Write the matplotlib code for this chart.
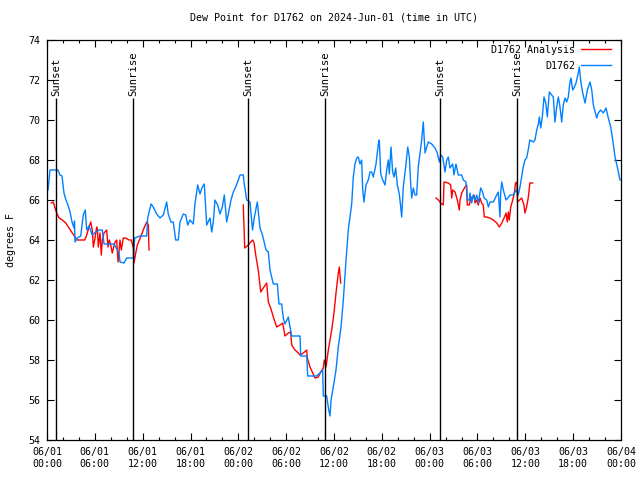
import numpy as np
import matplotlib
matplotlib.use('Agg')
import matplotlib.pyplot as plt
from matplotlib.ticker import MultipleLocator, FuncFormatter
from datetime import datetime, timedelta

# 時刻は 2024-06-01 00:00 UTC からの経過時間 [h]
start = datetime(2024, 6, 1, 0, 0)

# D1762 観測値
obs_hours = [
    0.13, 0.38, 1.38, 1.63, 1.88, 2.13, 2.38, 2.63, 2.89, 3.14, 3.39, 3.45, 3.51, 3.8, 4.23,
    4.55, 4.8, 4.98, 5.27, 5.68, 6.11, 6.52, 6.94, 7.15, 8.4, 9.03, 9.16, 9.66, 10.0, 10.83,
    11.0, 11.67, 12.51, 12.63, 13.05, 13.33, 13.76, 14.17, 14.59, 15.01, 15.21, 15.55, 15.84,
    16.14, 16.47, 16.68, 17.1, 17.4, 17.65, 17.94, 18.35, 18.56, 18.9, 19.19, 19.48, 19.73,
    20.03, 20.45, 20.66, 20.86, 21.07, 21.41, 21.7, 21.99, 22.24, 22.54, 22.74, 23.08, 23.37,
    23.67, 24.0, 24.21, 24.62, 24.71, 25.05, 25.46, 25.78, 25.99, 26.38, 26.72, 27.06, 27.47,
    27.76, 27.97, 28.39, 28.89, 29.1, 29.44, 29.64, 29.85, 30.27, 30.39, 30.69, 31.74, 31.82,
    32.58, 32.7, 33.83, 34.24, 34.58, 34.66, 35.08, 35.34, 35.5, 35.63, 35.91, 36.25, 36.54,
    36.88, 37.17, 37.51, 37.79, 38.22, 38.42, 38.63, 38.85, 39.05, 39.26, 39.47, 39.6, 39.76,
    40.01, 40.3, 40.52, 40.73, 40.93, 41.27, 41.56, 41.68, 41.86, 42.11, 42.4, 42.61, 42.81,
    42.94, 43.15, 43.36, 43.53, 43.74, 43.94, 44.19, 44.37, 44.49, 44.69, 44.99, 45.25, 45.45,
    45.62, 45.75, 45.95, 46.16, 46.37, 46.57, 46.79, 47.0, 47.2, 47.42, 47.63, 47.83, 48.26,
    48.67, 48.96, 49.21, 49.39, 49.64, 49.92, 50.14, 50.34, 50.55, 50.89, 51.05, 51.3, 51.59,
    52.02, 52.22, 52.56, 52.72, 52.97, 53.06, 53.27, 53.47, 53.69, 53.9, 54.1, 54.4, 54.65,
    54.82, 55.16, 55.36, 55.57, 55.99, 56.41, 56.61, 56.82, 56.91, 57.04, 57.24, 57.58, 57.79,
    58.08, 58.49, 58.83, 59.11, 59.33, 59.54, 59.74, 59.95, 60.16, 60.36, 60.57, 61.0, 61.21,
    61.43, 61.63, 61.76, 61.93, 62.13, 62.34, 62.56, 62.76, 63.01, 63.31, 63.51, 63.72, 63.93,
    64.14, 64.35, 64.56, 64.76, 64.98, 65.19, 65.39, 65.6, 65.73, 65.94, 66.1, 66.36, 66.64,
    66.77, 66.98, 67.2, 67.49, 67.78, 68.11, 68.33, 68.53, 68.95, 69.15, 69.45, 69.78, 70.12,
    70.41, 70.71, 70.96, 71.25, 71.54, 71.79, 71.88,
]
obs_dewpt = [
    66.5, 67.5, 67.5, 67.25, 67.2, 66.35, 66.0, 65.75, 65.4, 64.9, 64.6, 64.95, 63.9, 64.1, 64.2,
    65.25, 65.5, 64.5, 64.7, 64.25, 64.4, 64.5, 64.5, 63.8, 63.8, 63.35, 62.9, 62.85, 63.1, 63.1,
    64.1, 64.2, 64.2, 65.1, 65.8, 65.65, 65.3, 65.1, 65.25, 65.9, 65.3, 64.9, 64.9,
    64.0, 64.0, 64.9, 65.3, 65.25, 64.75, 65.0, 64.8, 65.8, 66.75, 66.3, 66.65, 66.8,
    64.75, 65.1, 64.4, 64.9, 66.0, 65.75, 65.3, 65.65, 66.25, 64.9, 65.3, 66.0, 66.4,
    66.65, 67.0, 67.25, 67.25, 66.9, 66.0, 65.9, 64.5, 65.1, 65.9, 64.6, 64.2, 63.5,
    63.4, 62.5, 61.8, 61.8, 60.8, 60.8, 60.1, 59.8, 60.15, 59.85, 59.2, 59.2, 58.2,
    58.2, 57.2, 57.2, 57.35, 57.5, 56.2, 56.2, 55.5, 55.2, 56.0, 56.65, 57.5, 58.65,
    59.65, 61.0, 63.0, 64.5, 65.8, 67.15, 67.8, 68.1, 68.15, 67.8, 68.0, 66.5, 65.9,
    66.75, 67.0, 67.4, 67.4, 67.15, 67.8, 68.8, 69.0, 67.3, 67.0, 66.75, 67.5, 68.0,
    67.3, 68.65, 67.4, 67.15, 67.6, 66.75, 66.3, 65.65, 65.15, 66.65, 67.65, 68.65, 68.15,
    66.8, 66.1, 66.6, 66.25, 66.25, 67.65, 68.35, 69.0, 69.9, 68.35, 68.65, 68.9, 68.8,
    68.6, 68.35, 67.9, 68.25, 68.15, 67.4, 68.0, 68.15, 67.6, 67.8, 67.25, 67.8, 67.25,
    67.25, 67.0, 66.9, 66.0, 66.0, 66.35, 65.85, 66.25, 66.0, 66.25, 65.85, 66.6, 66.4,
    66.1, 66.0, 65.65, 65.9, 65.9, 66.25, 66.4, 65.15, 66.35, 66.9, 66.5, 66.0, 66.1,
    66.25, 66.25, 66.5, 66.25, 66.65, 67.15, 67.65, 68.0, 68.1, 68.5, 69.0, 68.9, 69.0,
    69.5, 69.8, 70.15, 69.6, 70.15, 71.15, 70.85, 70.15, 71.4, 71.25, 71.15, 69.9, 70.65,
    71.15, 70.65, 69.9, 70.75, 71.1, 70.9, 71.15, 71.9, 72.1, 71.5, 71.6, 71.85, 72.35,
    72.65, 71.85, 71.35, 70.85, 71.5, 71.9, 71.5, 70.75, 70.1, 70.35, 70.5, 70.35, 70.6,
    70.1, 69.65, 69.0, 68.15, 67.65, 67.15, 67.0,
]

# D1762 Analysis (12時間ごとの3区間, NaN で区切る)
ana_hours = [
    0.54, 0.79, 0.97, 1.22, 1.51, 1.92, 2.35, 2.76, 3.17, 3.6, 3.8, 4.73, 4.98, 5.27, 5.48,
    5.68, 5.81, 5.98, 6.23, 6.33, 6.43, 6.65, 6.81, 6.94, 7.15, 7.49, 7.65, 7.81, 7.99, 8.19,
    8.49, 8.74, 8.91, 9.16, 9.32, 9.57, 9.87, 10.29, 10.57, 10.83, 10.91, 11.13, 11.33, 11.75,
    12.17, 12.51, 12.71, 12.79,
    18.0,
    24.62, 24.71, 24.8, 25.25, 25.55, 25.8, 25.97, 26.22, 26.5, 26.81, 27.13, 27.56, 27.76,
    28.06, 28.39, 28.81, 29.23, 29.57, 29.85, 30.27, 30.57, 30.69, 31.11, 31.52, 31.74, 32.15,
    32.58, 32.65, 32.99, 33.33, 33.62, 34.03, 34.33, 34.66, 34.78, 35.0, 35.29, 35.71, 36.0,
    36.25, 36.54, 36.67, 36.84,
    42.0,
    48.8, 49.09, 49.39, 49.71, 49.8, 50.34, 50.64, 50.77, 50.89, 51.18, 51.47, 51.72, 51.81,
    52.02, 52.22, 52.43, 52.64, 52.72, 52.97, 53.15, 53.4, 53.56, 53.69, 53.9, 54.1, 54.31,
    54.52, 54.72, 54.85, 55.16, 55.57, 55.99, 56.41, 56.74, 57.04, 57.33, 57.58, 57.74, 57.87,
    57.99, 58.17, 58.42, 58.62, 58.77, 58.94, 59.02, 59.54, 59.83, 59.95, 60.16, 60.36, 60.57,
    60.91,
]
ana_dewpt = [
    65.85, 65.9, 65.65, 65.35, 65.1, 65.0, 64.85, 64.6, 64.35, 64.1, 64.0, 64.0, 64.25, 64.65, 64.9,
    64.5, 63.65, 64.0, 64.65, 64.5, 63.65, 64.35, 63.25, 64.0, 64.35, 64.5, 63.65, 64.0, 63.75, 63.35,
    63.85, 64.0, 62.9, 64.0, 63.5, 64.1, 64.1, 64.0, 64.0, 63.6, 62.85, 63.35, 63.75, 64.15,
    64.6, 64.9, 64.75, 63.5,
    np.nan,
    65.75, 64.65, 63.6, 63.75, 63.9, 64.0, 63.85, 63.15, 62.5, 61.4, 61.6, 61.85, 60.9,
    60.6, 60.15, 59.65, 59.75, 59.85, 59.2, 59.35, 59.4, 58.75, 58.5, 58.35, 58.25, 58.35,
    58.5, 58.1, 57.65, 57.35, 57.1, 57.15, 57.4, 57.6, 58.0, 57.65, 58.5, 59.5, 60.35,
    61.35, 62.35, 62.65, 61.85,
    np.nan,
    66.1, 66.0, 65.85, 65.75, 66.9, 66.85, 66.75, 66.1, 66.5, 66.4, 66.0, 65.5, 66.0,
    66.35, 66.5, 66.65, 66.75, 65.75, 65.75, 66.1, 66.15, 66.25, 65.85, 66.0, 65.75, 66.1,
    65.85, 65.75, 65.15, 65.15, 65.1, 65.0, 64.85, 64.65, 64.85, 65.1, 65.35, 64.9, 65.4,
    65.0, 65.65, 66.0, 66.35, 66.85, 66.9, 65.9, 66.1, 65.75, 65.35, 65.65, 66.1, 66.85,
    66.85,
]

# 日の入り・日の出 [h]
sun_hours = [1.13, 10.8, 25.2, 34.85, 49.3, 58.95]
sun_labels = ['Sunset', 'Sunrise', 'Sunset', 'Sunrise', 'Sunset', 'Sunrise']

font = 'DejaVu Sans Mono'
fs = 7.2
plt.rcParams['font.family'] = font
plt.rcParams['font.size'] = fs

fig = plt.figure(figsize=(6.4, 4.8), dpi=100)
ax = fig.add_axes([47 / 640, 40 / 480, 574 / 640, 400 / 480])

ax.plot(ana_hours, ana_dewpt, color='#ff0000', lw=1.0, label='D1762 Analysis')
ax.plot(obs_hours, obs_dewpt, color='#0080ff', lw=1.0, label='D1762')

for h, lab in zip(sun_hours, sun_labels):
    ax.vlines(h, 54, 71.1, color='black', lw=1.0)
    ax.text(h, 71.2, lab, rotation=90, ha='center', va='bottom', fontsize=7.6)

ax.set_xlim(0, 72)
ax.set_ylim(54, 74)
ax.xaxis.set_major_locator(MultipleLocator(6))
ax.xaxis.set_minor_locator(MultipleLocator(2))
ax.yaxis.set_major_locator(MultipleLocator(2))
ax.xaxis.set_major_formatter(FuncFormatter(
    lambda v, p: (start + timedelta(hours=v)).strftime('%m/%d\n%H:%M')))
ax.tick_params(which='both', direction='in', top=True, right=True, color='black')
ax.tick_params(which='major', length=5, width=0.8, labelsize=fs)
ax.tick_params(which='minor', length=2.5, width=0.8)
ax.tick_params(axis='x', pad=5)
ax.tick_params(axis='y', pad=5)
for s in ax.spines.values():
    s.set_linewidth(0.9)

ax.set_title('Dew Point for D1762 on 2024-Jun-01 (time in UTC)', fontsize=fs, pad=14)
ax.set_ylabel('degrees F', fontsize=fs, labelpad=9)

ax.legend(loc='upper right', bbox_to_anchor=(0.985, 0.99), frameon=False,
          markerfirst=False, fontsize=fs, handlelength=3.0, borderaxespad=0,
          borderpad=0.1, labelspacing=0.6, handletextpad=0.6)

fig.savefig('out.png', dpi=100)
